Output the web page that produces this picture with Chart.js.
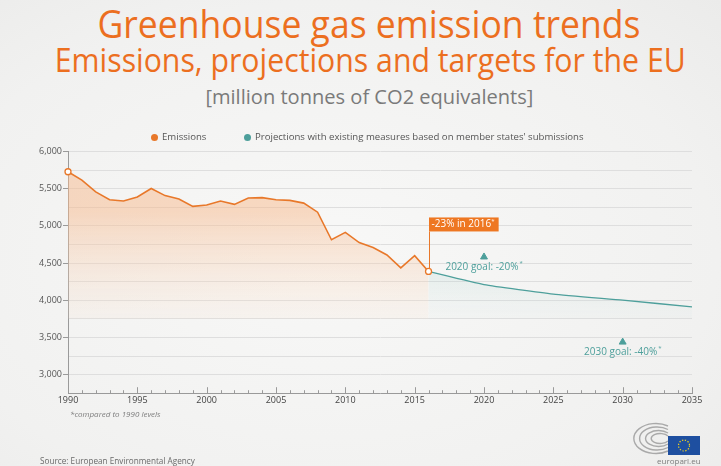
<!DOCTYPE html>
<html>
<head>
<meta charset="utf-8">
<script src="https://cdn.jsdelivr.net/npm/chart.js@4.4.1/dist/chart.umd.min.js"></script>
<style>
  html, body { margin: 0; padding: 0; }
  body {
    width: 721px; height: 466px; overflow: hidden; position: relative;
    background: radial-gradient(ellipse at 45% 55%, #f8f8f7 0%, #f1f1f0 70%, #ebebea 100%);
    font-family: "Open Sans", sans-serif;
  }
  #chart { position: absolute; left: 0; top: 0; }
  .t { position: absolute; white-space: nowrap; line-height: 1;
       font-family: "Open Sans", sans-serif; transform-origin: 50% 50%; }
  #t1 { top: 3px; font-size: 39px; color: #ec6f1f; font-weight: 500; }
  #t2 { top: 43px; font-size: 33px; color: #ec6f1f; font-weight: 500; }
  #t3 { top: 87px; font-size: 20px; color: #7a7a7a; }
  .legend { position: absolute; top: 130px; font-size: 9.6px; color: #555; white-space: nowrap; }
  .legend i { display: inline-block; width: 7px; height: 7px; border-radius: 50%; margin-right: 4px; vertical-align: -0.5px; }
  .note { position: absolute; color: #7d7d7d; white-space: nowrap; }
  #foot { left: 70px; top: 408px; font-size: 8px; font-style: italic; }
  #src { left: 40px; top: 455px; font-size: 8.2px; color: #6a6a6a; }
  #site { left: 657px; top: 455px; font-size: 8px; }
  #logo { position: absolute; left: 626px; top: 422px; }
</style>
</head>
<body>
<div class="t" id="t1" data-center="368.5" data-width="543">Greenhouse gas emission trends</div>
<div class="t" id="t2" data-center="370.5" data-width="631">Emissions, projections and targets for the EU</div>
<div class="t" id="t3" data-center="369" data-width="328">[million tonnes of CO2 equivalents]</div>
<canvas id="chart" width="721" height="466"></canvas>
<div class="legend" style="left:151px"><i style="background:#e8782a"></i>Emissions</div>
<div class="legend" style="left:244px"><i style="background:#4d9f9b"></i>Projections with existing measures based on member states' submissions</div>
<div class="note" id="foot">*compared to 1990 levels</div>
<div class="note" id="src">Source: European Environmental Agency</div>
<div class="note" id="site">europarl.eu</div>
<svg id="logo" width="76" height="34" viewBox="0 0 76 34">
  <g fill="none" stroke="#a9a9a9" stroke-width="1.4">
    <path d="M42 29 A22 15 0 1 1 42 4"/>
    <path d="M42 25.5 A17.5 11.5 0 1 1 42 7.5"/>
    <path d="M42 22 A13 8 0 1 1 42 11"/>
    <path d="M42 19 A9 5 0 1 1 42 14"/>
  </g>
  <rect x="42" y="14" width="32" height="19" fill="#1e4fa0"/>
  <circle cx="58" cy="23.5" r="5.5" fill="none" stroke="#f3d31c" stroke-width="1.2" stroke-dasharray="1.3 1.6"/>
</svg>
<script>
// --- DATA ---
const emissionYears = [1990, 1991, 1992, 1993, 1994, 1995, 1996, 1997, 1998, 1999,
                       2000, 2001, 2002, 2003, 2004, 2005, 2006, 2007, 2008, 2009,
                       2010, 2011, 2012, 2013, 2014, 2015, 2016];
const emissionValues = [5728, 5615, 5456, 5352, 5334, 5388, 5502, 5407, 5361, 5262,
                        5280, 5334, 5289, 5374, 5380, 5352, 5343, 5306, 5184, 4813,
                        4912, 4776, 4708, 4609, 4436, 4600, 4387];
const projectionYears = [2016, 2020, 2025, 2030, 2035];
const projectionValues = [4387, 4210, 4083, 4001, 3911];
const goalYears = [2020, 2030];
const goalPercents = [-20, -40];      // vs 1990 level
const xTickYears = [1990, 1995, 2000, 2005, 2010, 2015, 2020, 2025, 2030, 2035];

const ORANGE = '#e8782a';
const TEAL = '#4d9f9b';

const base1990 = emissionValues[0];
const goalValues = goalPercents.map(p => Math.round(base1990 * (1 + p / 100)));

const toPoints = (xs, ys) => xs.map((x, i) => ({ x: x, y: ys[i] }));

// squeeze the headline text into its column width
document.querySelectorAll('.t').forEach(el => {
    const w = el.getBoundingClientRect().width;
    const k = parseFloat(el.dataset.width) / w;
    el.style.left = (parseFloat(el.dataset.center) - w / 2) + 'px';
    el.style.transform = 'scaleX(' + k + ')';
});

function areaGradient(ctx, top, bottom) {
    const { chart } = ctx;
    const area = chart.chartArea;
    if (!area) return top;
    const g = chart.ctx.createLinearGradient(0, area.top + 60, 0, chart.scales.y.getPixelForValue(3750));
    g.addColorStop(0, top);
    g.addColorStop(1, bottom);
    return g;
}

// year ticks pointing up from the x axis, plus annotations
const decorations = {
    id: 'decorations',
    afterDatasetsDraw(chart) {
        const { ctx, scales: { x, y } } = chart;
        const yAxis = chart.chartArea.bottom;
        ctx.save();
        ctx.strokeStyle = '#9a9a9a';
        ctx.lineWidth = 1;
        for (let yr = xTickYears[0]; yr <= xTickYears[xTickYears.length - 1]; yr++) {
            const px = Math.round(x.getPixelForValue(yr)) + 0.5;
            const len = yr % 5 === 0 ? 6 : 3;
            ctx.beginPath();
            ctx.moveTo(px, yAxis);
            ctx.lineTo(px, yAxis - len);
            ctx.stroke();
        }

        // 2016 callout
        const lastYear = emissionYears[emissionYears.length - 1];
        const lastVal = emissionValues[emissionValues.length - 1];
        const pct = Math.round((lastVal / base1990 - 1) * 100);
        const px = Math.round(x.getPixelForValue(lastYear)) + 0.5;
        const py = y.getPixelForValue(lastVal);
        const boxBottom = py - 40;
        ctx.strokeStyle = ORANGE;
        ctx.beginPath();
        ctx.moveTo(px, py - 3);
        ctx.lineTo(px, boxBottom);
        ctx.stroke();
        ctx.font = '10px "Open Sans", sans-serif';
        const label = pct + '% in ' + lastYear;
        const w = ctx.measureText(label).width + 10;
        ctx.fillStyle = '#ee7722';
        ctx.fillRect(px - 0.5, boxBottom - 14, w, 14);
        ctx.fillStyle = '#ffffff';
        ctx.textBaseline = 'middle';
        ctx.textAlign = 'left';
        ctx.fillText(label, px + 2, boxBottom - 7);
        ctx.font = '6px "Open Sans", sans-serif';
        ctx.fillText('*', px + w - 8, boxBottom - 10);

        // goal labels under the triangles
        ctx.fillStyle = TEAL;
        goalYears.forEach((yr, i) => {
            const gx = x.getPixelForValue(yr);
            const gy = y.getPixelForValue(goalValues[i]);
            const txt = yr + ' goal: ' + goalPercents[i] + '%';
            ctx.font = '10px "Open Sans", sans-serif';
            const tw = ctx.measureText(txt).width;
            ctx.textAlign = 'left';
            ctx.fillText(txt, gx - tw / 2 - 2, gy + 10);
            ctx.font = '6px "Open Sans", sans-serif';
            ctx.fillText('*', gx + tw / 2 - 1, gy + 6);
        });
        ctx.restore();
    }
};

new Chart(document.getElementById('chart'), {
    type: 'line',
    data: {
        datasets: [
            {
                label: 'Emissions',
                data: toPoints(emissionYears, emissionValues),
                borderColor: ORANGE,
                borderWidth: 1.6,
                backgroundColor: c => areaGradient(c, 'rgba(247,185,140,0.5)', 'rgba(250,225,205,0.15)'),
                fill: { value: 3750 },
                clip: false,
                pointRadius: c => (c.dataIndex === 0 || c.dataIndex === emissionYears.length - 1) ? 3 : 0,
                pointBackgroundColor: '#ffffff',
                pointBorderColor: ORANGE,
                pointBorderWidth: 1.3,
                tension: 0
            },
            {
                label: "Projections with existing measures based on member states' submissions",
                data: toPoints(projectionYears, projectionValues),
                borderColor: TEAL,
                borderWidth: 1.3,
                backgroundColor: c => areaGradient(c, 'rgba(120,185,180,0.38)', 'rgba(200,225,222,0.05)'),
                fill: { value: 3750 },
                pointRadius: 0,
                tension: 0.15
            },
            {
                label: 'Goals',
                data: toPoints(goalYears, goalValues),
                showLine: false,
                pointStyle: 'triangle',
                pointRadius: 4,
                pointBackgroundColor: TEAL,
                pointBorderColor: TEAL,
                borderColor: TEAL
            }
        ]
    },
    options: {
        responsive: false,
        animation: false,
        layout: { padding: { top: 151.5, right: 29, bottom: 58, left: 0 } },
        plugins: {
            legend: { display: false },
            tooltip: { enabled: false },
            filler: { propagate: false }
        },
        scales: {
            x: {
                type: 'linear',
                min: 1990,
                max: 2035,
                grid: { display: false, drawTicks: false },
                border: { color: '#9a9a9a' },
                afterBuildTicks: s => { s.ticks = xTickYears.map(v => ({ value: v })); },
                ticks: {
                    padding: 2,
                    color: '#444444',
                    font: { size: 9, family: '"Open Sans", sans-serif' },
                    callback: v => String(v)
                }
            },
            y: {
                min: 2750,
                max: 6000,
                afterFit: s => { s.width = 68; },
                border: { color: '#9a9a9a' },
                grid: {
                    color: '#dedede',
                    tickLength: 5,
                    tickColor: c => (c.tick && c.tick.value % 500 === 0) ? '#9a9a9a' : 'rgba(0,0,0,0)'
                },
                ticks: {
                    stepSize: 250,
                    padding: 1,
                    color: '#555555',
                    font: { size: 9, family: '"Open Sans", sans-serif' },
                    callback: v => (v % 500 === 0 && v >= 3000) ? v.toLocaleString('en-US') : ''
                }
            }
        }
    },
    plugins: [decorations]
});
</script>
</body>
</html>
